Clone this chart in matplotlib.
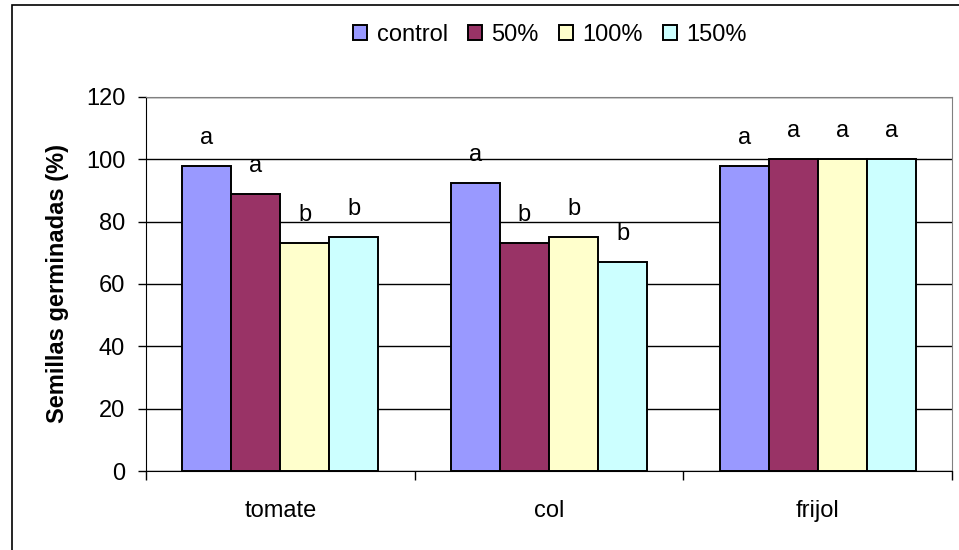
import numpy as np
import matplotlib.pyplot as plt
from matplotlib.patches import Rectangle

plt.rcParams['font.family'] = ['Liberation Sans', 'DejaVu Sans']

# ---- data ----
categories = ['tomate', 'col', 'frijol']
series = ['control', '50%', '100%', '150%']
control = [98, 92.5, 98]
pct50 = [89, 73, 100]
pct100 = [73, 75, 100]
pct150 = [75, 67, 100]
letters_control = ['a', 'a', 'a']
letters_50 = ['a', 'b', 'a']
letters_100 = ['b', 'b', 'a']
letters_150 = ['b', 'b', 'a']

colors = ['#9999FF', '#993366', '#FFFFCC', '#CCFFFF']
fs = 17

W, H = 959, 550
fig = plt.figure(figsize=(W / 100, H / 100), dpi=100)
# plot area in pixels: x 146..952, y 97..471
ax = fig.add_axes([146 / W, 1 - 471 / H, (952 - 146) / W, (471 - 97) / H])

values = [control, pct50, pct100, pct150]
letters = [letters_control, letters_50, letters_100, letters_150]
x = np.arange(len(categories))
bw = 0.1825
for i, (name, vals, lets) in enumerate(zip(series, values, letters)):
    pos = x + (i - 1.5) * bw
    ax.bar(pos, vals, width=bw, color=colors[i], edgecolor='black',
           linewidth=1.4, label=name, zorder=3)
    for p, v, t in zip(pos, vals, lets):
        ax.text(p, v + 9, t, ha='center', va='center', fontsize=fs, zorder=4)

ax.set_xlim(-0.5, 2.5)
ax.set_ylim(0, 120)
ax.set_yticks(range(0, 121, 20))
ax.yaxis.grid(True, color='black', linewidth=1.0, zorder=0)
ax.set_xticks(x)
ax.set_xticklabels(categories, fontsize=fs)
ax.tick_params(axis='x', length=0, pad=21)
ax.set_xticks([-0.5, 0.5, 1.5, 2.5], minor=True)
ax.tick_params(axis='x', which='minor', length=6.5, width=1, color='black')
ax.tick_params(axis='y', length=6, width=1, labelsize=fs, pad=9)
ax.set_ylabel('Semillas germinadas (%)', fontsize=fs, fontweight='bold', labelpad=12)

for s in ['top', 'right']:
    ax.spines[s].set_color('#808080')
for s in ['left', 'bottom']:
    ax.spines[s].set_color('black')

ax.legend(loc='center', bbox_to_anchor=(550 / W, 1 - 35 / H), bbox_transform=fig.transFigure,
          ncol=4, frameon=False, fontsize=fs, handlelength=0.6, handleheight=0.6,
          handletextpad=0.4, columnspacing=0.85, borderaxespad=0)

# outer chart border
fig.patches.append(Rectangle((12 / W, -0.1), 1.1, 1 - 5 / H + 0.1,
                             transform=fig.transFigure, fill=False,
                             edgecolor='black', linewidth=1.2))

fig.savefig('out.png', dpi=100)
